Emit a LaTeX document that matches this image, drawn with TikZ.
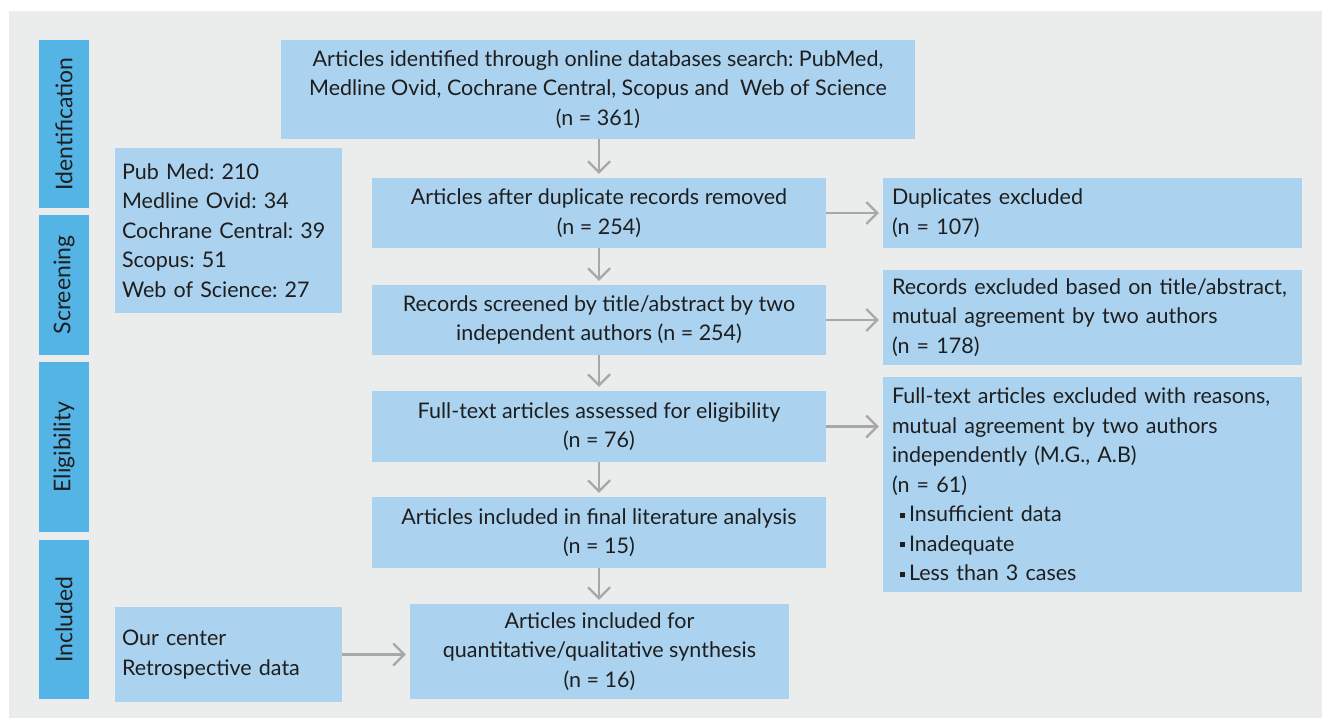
\documentclass[tikz,border=0pt]{standalone}
\usepackage{fontspec}
\setmainfont{Lato}
\usetikzlibrary{arrows.meta}
\definecolor{bgc}{HTML}{EBECEC}
\definecolor{lbl}{HTML}{55B4E6}
\definecolor{bx}{HTML}{ABD3F0}
\definecolor{arr}{HTML}{A8A8A8}
\definecolor{txt}{HTML}{1E1E1E}
\frenchspacing
\hyphenpenalty=10000
\tikzset{
  box/.style={fill=bx, draw=none, inner sep=0pt, text=txt, align=center,
    font=\fontsize{21.5}{29.5}\selectfont},
  lbox/.style={box, align=left, inner xsep=9pt},
  side/.style={fill=lbl, draw=none, inner sep=0pt, text=txt, rotate=90,
    font=\fontsize{23}{26}\selectfont},
  conn/.style={draw=arr, line width=2.2pt, -{Straight Barb[length=11pt,width=22pt]}, shorten >=4pt}
}
\newcommand{\bul}{\hspace*{8pt}\raisebox{4pt}{\rule{5pt}{5pt}}\hspace{4pt}}
\begin{document}
\begin{tikzpicture}[x=1pt,y=-1pt]
\useasboundingbox (0,0) rectangle (1322,720);
\fill[white] (0,0) rectangle (1322,720);
\fill[bgc] (9,11) rectangle (1322,718);

% side labels (rotated: width <-> height)
\node[side, minimum width=168pt, minimum height=50pt] (sid) at (64,124) {Identification};
\node[side, minimum width=140pt, minimum height=50pt] (ssc) at (64,285) {Screening};
\node[side, minimum width=170pt, minimum height=50pt] (sel) at (64,447) {Eligibility};
\node[side, minimum width=159pt, minimum height=50pt] (sin) at (64,619.5) {Included};

% boxes
\node[box, minimum width=634pt, minimum height=99pt] (top) at (598,89.5)
  {Articles identified through online databases search: PubMed,\\
   Medline Ovid, Cochrane Central, Scopus and\ \ Web of Science\\ (n = 361)};
\node[lbox, inner xsep=7pt, minimum width=227pt, minimum height=165pt, text width=213pt] (pub) at (228.5,230.5)
  {Pub Med: 210\\ Medline Ovid: 34\\ Cochrane Central: 39\\ Scopus: 51\\ Web of Science: 27};
\node[box, minimum width=454pt, minimum height=70pt] (dup) at (599,213)
  {Articles after duplicate records removed\\ (n = 254)};
\node[lbox, minimum width=419pt, minimum height=70pt, text width=401pt] (dupx) at (1092.5,213)
  {Duplicates excluded\\ (n = 107)};
\node[box, minimum width=454pt, minimum height=70pt] (scr) at (599,320)
  {Records screened by title/abstract by two\\ independent authors (n = 254)};
\node[lbox, minimum width=419pt, minimum height=95pt, text width=401pt] (scrx) at (1092.5,317.5)
  {Records excluded based on title/abstract,\\ mutual agreement by two authors\\ (n = 178)};
\node[box, minimum width=454pt, minimum height=71pt] (ft) at (599,426.5)
  {Full-text articles assessed for eligibility\\ (n = 76)};
\node[lbox, minimum width=419pt, minimum height=215pt, text width=401pt] (ftx) at (1092.5,484.5)
  {Full-text articles excluded with reasons,\\ mutual agreement by two authors\\ independently (M.G., A.B)\\ (n = 61)\\
   \bul Insufficient data\\ \bul Inadequate\\ \bul Less than 3 cases};
\node[box, minimum width=454pt, minimum height=71pt] (fin) at (599,532.5)
  {Articles included in final literature analysis\\ (n = 15)};
\node[lbox, inner xsep=7pt, minimum width=227pt, minimum height=95pt, text width=213pt] (our) at (228.5,654.5)
  {Our center\\ Retrospective data\\[6pt]};
\node[box, minimum width=379pt, minimum height=95pt] (qs) at (599.5,651.5)
  {Articles included for\\ quantitative/qualitative synthesis\\ (n = 16)};

% connectors
\draw[conn] (top.south -| dup.north) -- (dup.north);
\draw[conn] (dup) -- (scr);
\draw[conn] (scr) -- (ft);
\draw[conn] (ft) -- (fin);
\draw[conn] (fin.south) -- (fin.south |- qs.north);
\draw[conn] (dup.east) -- (dup.east -| dupx.west);
\draw[conn] (scr.east) -- (scr.east -| scrx.west);
\draw[conn] (ft.east) -- (ft.east -| ftx.west);
\draw[conn] (our.east) -- (our.east -| qs.west);
\end{tikzpicture}
\end{document}
